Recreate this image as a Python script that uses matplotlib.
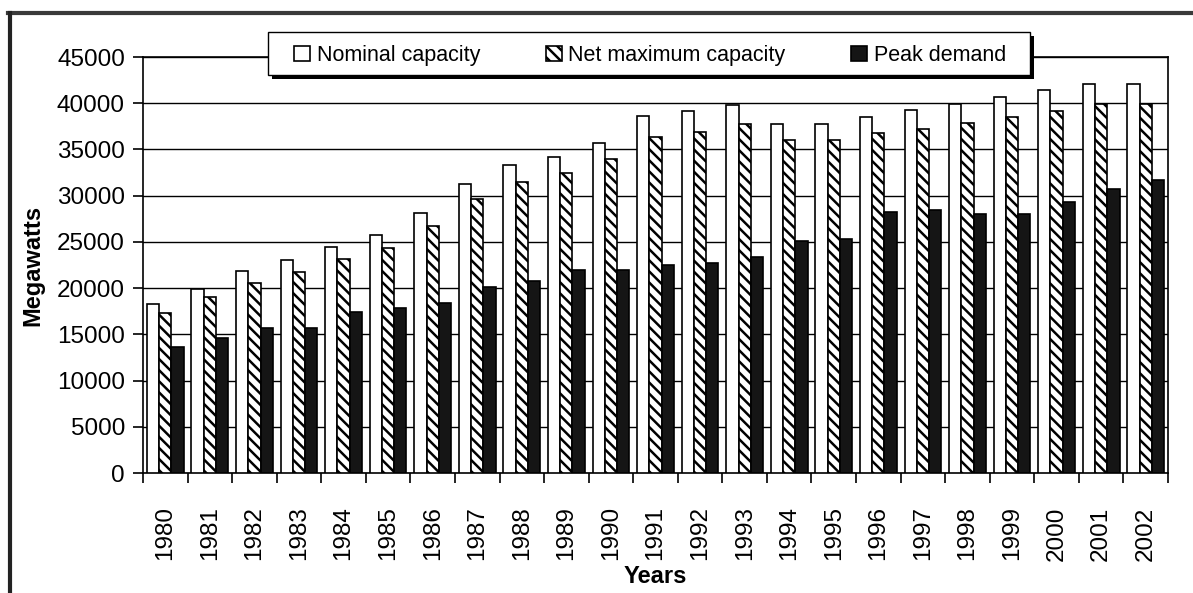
import numpy as np
import matplotlib
matplotlib.use('Agg')
import matplotlib.pyplot as plt
from matplotlib.lines import Line2D
from matplotlib.patches import Rectangle

plt.rcParams['font.family'] = ['Liberation Sans', 'DejaVu Sans']
plt.rcParams['hatch.linewidth'] = 1.8

####### Data

years = [str(y) for y in range(1980, 2003)]
nominal = [18300, 19900, 21800, 23000, 24500, 25700, 28100, 31250, 33300, 34200,
           35700, 38600, 39200, 39850, 37800, 37800, 38550, 39250, 39900, 40700,
           41400, 42050, 42050]
net_max = [17300, 19000, 20500, 21700, 23200, 24350, 26750, 29600, 31450, 32450,
           33950, 36400, 36850, 37750, 36050, 36050, 36750, 37200, 37850, 38550,
           39200, 39900, 39900]
peak = [13650, 14650, 15700, 15700, 17400, 17900, 18350, 20100, 20750, 21950,
        21950, 22450, 22750, 23350, 25100, 25350, 28250, 28500, 28050, 28050,
        29350, 30700, 31700]

####### Plot

W, H = 1193, 593
fig = plt.figure(figsize=(W/100, H/100), dpi=100)
ax = fig.add_axes([143/W, 1-473/H, 1025/W, 416/H])

x = np.arange(len(years))
w = 0.275
ax.bar(x - w, nominal, w, facecolor='white', edgecolor='black', linewidth=1.2,
       label='Nominal capacity', zorder=3)
ax.bar(x, net_max, w, facecolor='white', edgecolor='black', linewidth=1.2,
       hatch='\\\\\\', label='Net maximum capacity', zorder=3)
ax.bar(x + w, peak, w, facecolor='#151515', edgecolor='black', linewidth=1.2,
       label='Peak demand', zorder=3)

ax.set_xlim(-0.5, len(years) - 0.5)
ax.set_ylim(0, 45000)
ax.set_yticks(np.arange(0, 45001, 5000))
ax.yaxis.grid(True, color='black', linewidth=1.0, zorder=0)
ax.set_axisbelow(True)

ax.set_xticks(x)
ax.set_xticklabels(years, rotation=90, fontsize=17.5)
ax.set_xticks(np.arange(-0.5, len(years), 1), minor=True)
ax.tick_params(axis='x', which='major', length=0, pad=24)
ax.tick_params(axis='x', which='minor', length=7, width=1.2, direction='out')
ax.tick_params(axis='y', labelsize=17.5, length=7, width=1.2, pad=6)
for s in ax.spines.values():
    s.set_linewidth(1.2)

ax.set_ylabel('Megawatts', fontsize=17, fontweight='bold', labelpad=9)
ax.set_xlabel('Years', fontsize=17, fontweight='bold', labelpad=3)

####### legend box with hard shadow

fig.add_artist(Rectangle((272/W, 1-79/H), 762/W, 43/H, transform=fig.transFigure,
                         facecolor='black', edgecolor='none', zorder=8))
fig.add_artist(Rectangle((268/W, 1-75/H), 762/W, 43/H, transform=fig.transFigure,
                         facecolor='white', edgecolor='black', linewidth=1.0, zorder=9))

handles, labels = ax.get_legend_handles_labels()
leg = fig.legend(handles, labels, loc='center', ncol=3, mode='expand',
                 bbox_to_anchor=(294/W, 1-77/H, 712/W, 43/H),
                 borderaxespad=0, borderpad=0, fontsize=15.5, frameon=False,
                 handlelength=0.75, handleheight=0.75, handletextpad=0.3)
leg.set_zorder(10)

####### outer frame of the scanned page

fig.add_artist(Line2D([8/W, 1], [1-13/H, 1-13/H], transform=fig.transFigure,
                      color='#3a3a3a', linewidth=3))
fig.add_artist(Line2D([10/W, 10/W], [0, 1-13/H], transform=fig.transFigure,
                      color='#222222', linewidth=3))

fig.savefig('out.png', dpi=100)
